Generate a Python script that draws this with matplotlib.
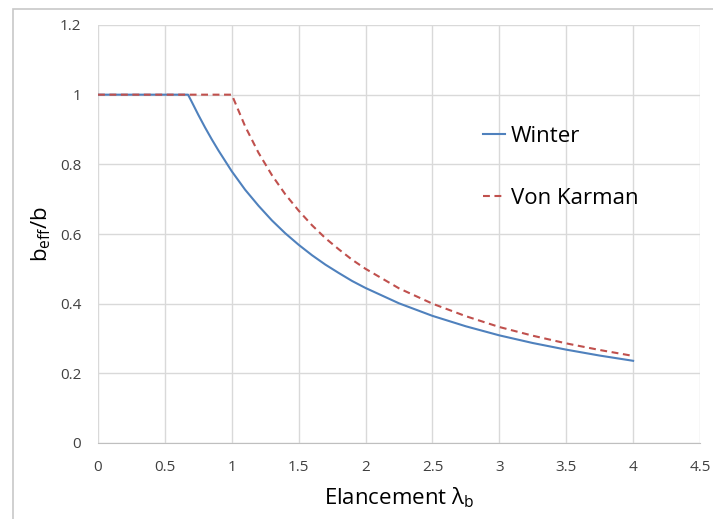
import matplotlib
matplotlib.use("Agg")
import matplotlib.pyplot as plt
from matplotlib.patches import Rectangle

plt.rcParams['font.family'] = ['Open Sans', 'DejaVu Sans']

# Winter curve
winter_x = [0, 0.673, 0.7, 0.75, 0.8, 0.85, 0.9, 1.0, 1.1, 1.2, 1.3, 1.4, 1.5,
            1.6, 1.7, 1.8, 1.9, 2.0, 2.25, 2.5, 2.75, 3.0, 3.25, 3.5, 3.75, 4.0]
winter_y = [1.0, 1.0, 0.980, 0.942, 0.906, 0.872, 0.840, 0.780, 0.727, 0.681,
            0.639, 0.602, 0.569, 0.539, 0.512, 0.488, 0.465, 0.445, 0.401,
            0.365, 0.335, 0.309, 0.287, 0.268, 0.251, 0.236]

# Von Karman curve
karman_x = [0, 1.0, 1.1, 1.2, 1.3, 1.4, 1.5, 1.6, 1.7, 1.8, 1.9, 2.0, 2.25,
            2.5, 2.75, 3.0, 3.25, 3.5, 3.75, 4.0]
karman_y = [1.0, 1.0, 0.909, 0.833, 0.769, 0.714, 0.667, 0.625, 0.588, 0.556,
            0.526, 0.500, 0.444, 0.400, 0.364, 0.333, 0.308, 0.286, 0.267, 0.250]

x_ticks = [0, 0.5, 1, 1.5, 2, 2.5, 3, 3.5, 4, 4.5]
y_ticks = [0, 0.2, 0.4, 0.6, 0.8, 1, 1.2]

fig = plt.figure(figsize=(7.13, 5.19), dpi=100)
# outer chart frame (partly cropped in the original)
fig.patches.append(Rectangle((13 / 713, -0.1), 1.2, 1 - 9 / 519 + 0.1,
                             transform=fig.transFigure, fill=False,
                             edgecolor='#c8c8c8', linewidth=1.2))

ax = fig.add_axes([98 / 713, 76 / 519, 602 / 713, 418 / 519])

ax.plot(winter_x, winter_y, color='#4F81BD', linewidth=1.5, label='Winter')
ax.plot(karman_x, karman_y, color='#C0504D', linewidth=1.5,
        dashes=(3.3, 2.2), label='Von Karman')

ax.set_xlim(0, 4.5)
ax.set_ylim(0, 1.2)
ax.set_xticks(x_ticks)
ax.set_xticklabels(['0', '0.5', '1', '1.5', '2', '2.5', '3', '3.5', '4', '4.5'])
ax.set_yticks(y_ticks)
ax.set_yticklabels(['0', '0.2', '0.4', '0.6', '0.8', '1', '1.2'])
ax.tick_params(length=0, labelsize=11, labelcolor='#404040', pad=12)
ax.grid(True, color='#d9d9d9', linewidth=1)
ax.set_axisbelow(True)
for s in ['top', 'right', 'left']:
    ax.spines[s].set_visible(False)
ax.spines['bottom'].set_color('#bfbfbf')

ax.set_xlabel(r'Elancement $\mathregular{\lambda_b}$', fontsize=16, labelpad=8)
ax.set_ylabel(r'$\mathregular{b_{eff}/b}$', fontsize=16, labelpad=5)

ax.legend(loc='upper left', bbox_to_anchor=(483 / 713, 1 - 126 / 519),
          bbox_transform=fig.transFigure, frameon=False, fontsize=16,
          handlelength=1.0, handletextpad=0.25, labelspacing=1.85,
          borderpad=0, borderaxespad=0)

plt.savefig("out.png", dpi=100)
